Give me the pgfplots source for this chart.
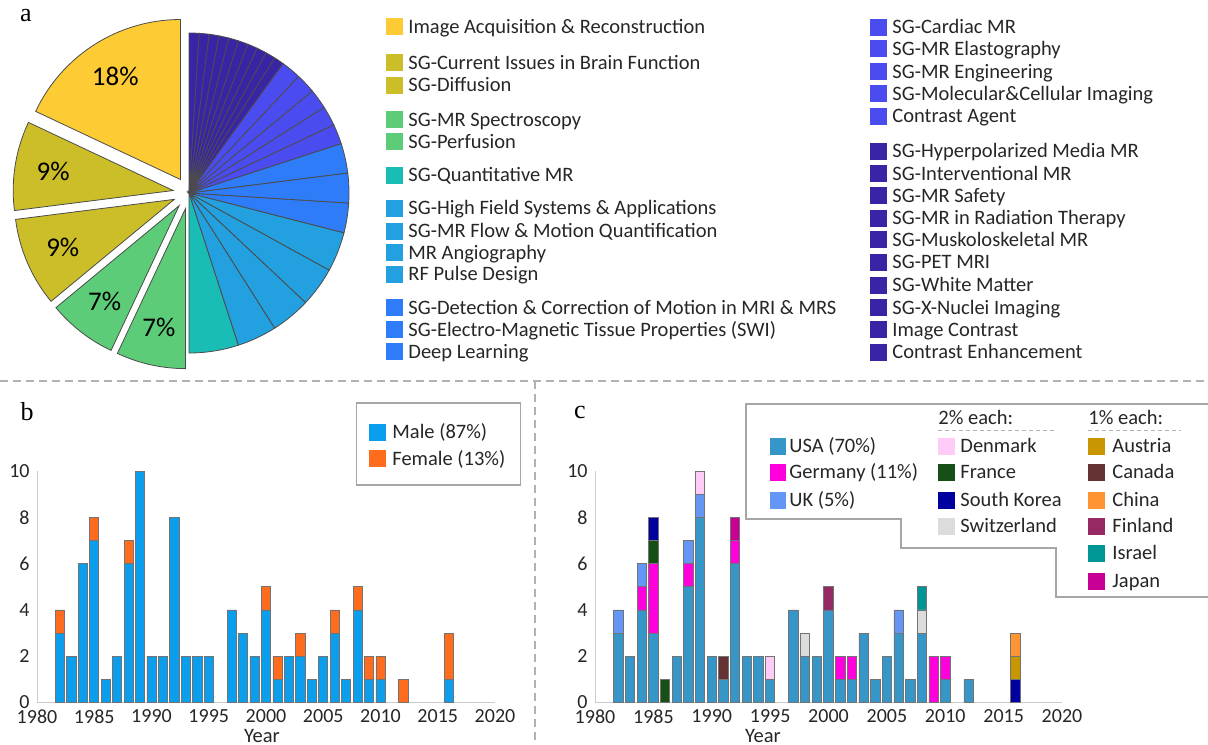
\documentclass[border=0pt]{standalone}
\usepackage{pgfplots}
\pgfplotsset{compat=1.18}
\usepackage{pgfplotstable}
\usepackage{fontspec}
\setmainfont{Carlito}
\newfontfamily\seriffont{Liberation Serif}

\definecolor{cYel}{HTML}{FDCB34}
\definecolor{cOli}{HTML}{CCBE28}
\definecolor{cGrn}{HTML}{5DCC79}
\definecolor{cTeal}{HTML}{1ABDB6}
\definecolor{cLB}{HTML}{22A0DF}
\definecolor{cBB}{HTML}{2E7CF8}
\definecolor{cBP}{HTML}{4A4CEF}
\definecolor{cDP}{HTML}{3A24A6}
\definecolor{cMale}{HTML}{0A9EEC}
\definecolor{cFemale}{HTML}{FF6C1E}
\definecolor{cUSA}{HTML}{3696C8}
\definecolor{cGER}{HTML}{FF00DC}
\definecolor{cUK}{HTML}{6496F5}
\definecolor{cDEN}{HTML}{FFCCF8}
\definecolor{cFRA}{HTML}{175016}
\definecolor{cKOR}{HTML}{0000A0}
\definecolor{cSUI}{HTML}{DCDCDC}
\definecolor{cAUT}{HTML}{C89600}
\definecolor{cCAN}{HTML}{643232}
\definecolor{cCHN}{HTML}{FF9433}
\definecolor{cFIN}{HTML}{962864}
\definecolor{cISR}{HTML}{009696}
\definecolor{cJPN}{HTML}{C80096}
\definecolor{txt}{HTML}{262626}

\pgfplotstableread{
year male female
1982 3 1
1983 2 0
1984 6 0
1985 7 1
1986 1 0
1987 2 0
1988 6 1
1989 10 0
1990 2 0
1991 2 0
1992 8 0
1993 2 0
1994 2 0
1995 2 0
1997 4 0
1998 3 0
1999 2 0
2000 4 1
2001 1 1
2002 2 0
2003 2 1
2004 1 0
2005 2 0
2006 3 1
2007 1 0
2008 4 1
2009 1 1
2010 1 1
2012 0 1
2016 1 2
}\gendertable

\pgfplotstableread{
year USA GER UK DEN FRA KOR SUI AUT CAN CHN FIN ISR JPN
1982 3 0 1 0 0 0 0 0 0 0 0 0 0
1983 2 0 0 0 0 0 0 0 0 0 0 0 0
1984 4 1 1 0 0 0 0 0 0 0 0 0 0
1985 3 3 0 0 1 1 0 0 0 0 0 0 0
1986 0 0 0 0 1 0 0 0 0 0 0 0 0
1987 2 0 0 0 0 0 0 0 0 0 0 0 0
1988 5 1 1 0 0 0 0 0 0 0 0 0 0
1989 8 0 1 1 0 0 0 0 0 0 0 0 0
1990 2 0 0 0 0 0 0 0 0 0 0 0 0
1991 1 0 0 0 0 0 0 0 1 0 0 0 0
1992 6 1 0 0 0 0 0 0 0 0 0 0 1
1993 2 0 0 0 0 0 0 0 0 0 0 0 0
1994 2 0 0 0 0 0 0 0 0 0 0 0 0
1995 1 0 0 1 0 0 0 0 0 0 0 0 0
1996 0 0 0 0 0 0 0 0 0 0 0 0 0
1997 4 0 0 0 0 0 0 0 0 0 0 0 0
1998 2 0 0 0 0 0 1 0 0 0 0 0 0
1999 2 0 0 0 0 0 0 0 0 0 0 0 0
2000 4 0 0 0 0 0 0 0 0 0 1 0 0
2001 1 1 0 0 0 0 0 0 0 0 0 0 0
2002 1 1 0 0 0 0 0 0 0 0 0 0 0
2003 3 0 0 0 0 0 0 0 0 0 0 0 0
2004 1 0 0 0 0 0 0 0 0 0 0 0 0
2005 2 0 0 0 0 0 0 0 0 0 0 0 0
2006 3 0 1 0 0 0 0 0 0 0 0 0 0
2007 1 0 0 0 0 0 0 0 0 0 0 0 0
2008 3 0 0 0 0 0 1 0 0 0 0 1 0
2009 0 2 0 0 0 0 0 0 0 0 0 0 0
2010 1 1 0 0 0 0 0 0 0 0 0 0 0
2011 0 0 0 0 0 0 0 0 0 0 0 0 0
2012 1 0 0 0 0 0 0 0 0 0 0 0 0
2013 0 0 0 0 0 0 0 0 0 0 0 0 0
2014 0 0 0 0 0 0 0 0 0 0 0 0 0
2015 0 0 0 0 0 0 0 0 0 0 0 0 0
2016 0 0 0 0 0 1 0 1 0 1 0 0 0
}\countrytable

% pie slice: start angle, end angle, colour, explode dx, dy
\newcommand{\slice}[5]{%
  \addplot[fill=#3, draw=black!70, line width=0.4pt, domain=#1:#2, samples=30]
    ({#4+cos(x)},{#5+sin(x)}) -- (axis cs:#4,#5) -- cycle;}
% legend item: square x, centre y, colour, text x, text
\newcommand{\li}[5]{%
  \fill[#3] (#1,#2-8.5) rectangle (#1+16.5,#2+8.5);
  \node[anchor=base west, inner sep=0, text=txt] at (#4,#2+6.6) {#5};}

\pgfplotsset{barax/.style={anchor=south west, scale only axis,
  height=115.75pt,
  xmin=1980, xmax=2020, ymin=0, ymax=10,
  ybar stacked, bar width=0.8,
  axis lines=left, axis line style={draw=gray!40, -},
  xtick={1980,1985,...,2020}, ytick={0,2,...,10},
  major tick length=0pt, minor tick num=0,
  tick label style={font=\fontsize{10}{12}\selectfont, text=txt, inner sep=0pt},
  xticklabel style={yshift=-3.5pt},
  yticklabel style={xshift=-3.5pt},
  /pgf/number format/1000 sep={}, /pgf/number format/assume math mode=true,
  clip=false},
  bars/.style={fill=#1, draw=black!55, line width=0.35pt}}

\begin{document}
\begin{tikzpicture}[font=\fontsize{10.25}{12}\selectfont]
\useasboundingbox (0,0) rectangle (604pt,-372pt);
\clip (0,0) rectangle (604pt,-372pt);

% ---------------- pie ----------------
\begin{axis}[at={(94.5pt,-96.5pt)}, anchor=center, scale only axis,
  width=200pt, height=200pt, xmin=-1.25, xmax=1.25, ymin=-1.25, ymax=1.25,
  hide axis, clip=false]
\slice{90}{154.8}{cYel}{-0.0536}{0.0844}
\slice{154.8}{187.2}{cOli}{-0.0988}{0.0156}
\slice{187.2}{219.6}{cOli}{-0.0918}{-0.0397}
\slice{219.6}{244.8}{cGrn}{-0.0613}{-0.0790}
\slice{244.8}{270}{cGrn}{-0.0218}{-0.0976}
\slice{270}{288}{cTeal}{0}{0}
\slice{288}{302.4}{cLB}{0}{0}
\slice{302.4}{316.8}{cLB}{0}{0}
\slice{316.8}{331.2}{cLB}{0}{0}
\slice{331.2}{345.6}{cLB}{0}{0}
\slice{345.6}{356.4}{cBB}{0}{0}
\slice{356.4}{367.2}{cBB}{0}{0}
\slice{367.2}{378}{cBB}{0}{0}
\slice{378}{385.2}{cBP}{0}{0}
\slice{385.2}{392.4}{cBP}{0}{0}
\slice{392.4}{399.6}{cBP}{0}{0}
\slice{399.6}{406.8}{cBP}{0}{0}
\slice{406.8}{414}{cBP}{0}{0}
\slice{414}{417.6}{cDP}{0}{0}
\slice{417.6}{421.2}{cDP}{0}{0}
\slice{421.2}{424.8}{cDP}{0}{0}
\slice{424.8}{428.4}{cDP}{0}{0}
\slice{428.4}{432}{cDP}{0}{0}
\slice{432}{435.6}{cDP}{0}{0}
\slice{435.6}{439.2}{cDP}{0}{0}
\slice{439.2}{442.8}{cDP}{0}{0}
\slice{442.8}{446.4}{cDP}{0}{0}
\slice{446.4}{450}{cDP}{0}{0}
\node[font=\fontsize{13.5}{16}\selectfont] at (axis cs:-0.461,0.726) {18\%};
\node[font=\fontsize{13.5}{16}\selectfont] at (axis cs:-0.849,0.135) {9\%};
\node[font=\fontsize{13.5}{16}\selectfont] at (axis cs:-0.789,-0.342) {9\%};
\node[font=\fontsize{13.5}{16}\selectfont] at (axis cs:-0.527,-0.680) {7\%};
\node[font=\fontsize{13.5}{16}\selectfont] at (axis cs:-0.188,-0.839) {7\%};
\end{axis}

% ---------------- panel b ----------------
\begin{axis}[barax, at={(18.5pt,-351.25pt)}, width=229pt]
\addplot[bars=cMale] table[x=year, y=male] {\gendertable};
\addplot[bars=cFemale] table[x=year, y=female] {\gendertable};
\end{axis}

% ---------------- panel c ----------------
\begin{axis}[barax, at={(297.5pt,-351.25pt)}, width=233.5pt]
\addplot[bars=cUSA] table[x=year, y=USA] {\countrytable};
\addplot[bars=cGER] table[x=year, y=GER] {\countrytable};
\addplot[bars=cUK] table[x=year, y=UK] {\countrytable};
\addplot[bars=cDEN] table[x=year, y=DEN] {\countrytable};
\addplot[bars=cFRA] table[x=year, y=FRA] {\countrytable};
\addplot[bars=cKOR] table[x=year, y=KOR] {\countrytable};
\addplot[bars=cSUI] table[x=year, y=SUI] {\countrytable};
\addplot[bars=cAUT] table[x=year, y=AUT] {\countrytable};
\addplot[bars=cCAN] table[x=year, y=CAN] {\countrytable};
\addplot[bars=cCHN] table[x=year, y=CHN] {\countrytable};
\addplot[bars=cFIN] table[x=year, y=FIN] {\countrytable};
\addplot[bars=cISR] table[x=year, y=ISR] {\countrytable};
\addplot[bars=cJPN] table[x=year, y=JPN] {\countrytable};
\end{axis}

\begin{scope}[x=0.5pt, y=-0.5pt]
% separators
\draw[gray!60, line width=0.7pt, dash pattern=on 4pt off 2.5pt] (0,381) -- (1208,381);
\draw[gray!60, line width=0.7pt, dash pattern=on 4pt off 2.5pt] (535,381) -- (535,744);

% panel letters
\node[font=\seriffont\fontsize{13}{15}\selectfont] at (26,16) {a};
\node[font=\seriffont\fontsize{13}{15}\selectfont] at (27,412) {b};
\node[font=\seriffont\fontsize{13}{15}\selectfont] at (580,412) {c};

% pie legend
\li{386}{26.7}{cYel}{408}{Image Acquisition \& Reconstruction}
\li{386}{62.7}{cOli}{408}{SG-Current Issues in Brain Function}
\li{386}{85.3}{cOli}{408}{SG-Diffusion}
\li{386}{119.5}{cGrn}{408}{SG-MR Spectroscopy}
\li{386}{141.7}{cGrn}{408}{SG-Perfusion}
\li{386}{175}{cTeal}{408}{SG-Quantitative MR}
\li{386}{208.3}{cLB}{408}{SG-High Field Systems \& Applications}
\li{386}{231}{cLB}{408}{SG-MR Flow \& Motion Quantification}
\li{386}{252.7}{cLB}{408}{MR Angiography}
\li{386}{274.3}{cLB}{408}{RF Pulse Design}
\li{386}{307.5}{cBB}{408}{SG-Detection \& Correction of Motion in MRI \& MRS}
\li{386}{329.7}{cBB}{408}{SG-Electro-Magnetic Tissue Properties (SWI)}
\li{386}{351.7}{cBB}{408}{Deep Learning}
\li{870}{27.3}{cBP}{892}{SG-Cardiac MR}
\li{870}{48.7}{cBP}{892}{SG-MR Elastography}
\li{870}{71.7}{cBP}{892}{SG-MR Engineering}
\li{870}{93.7}{cBP}{892}{SG-Molecular\&Cellular Imaging}
\li{870}{116.3}{cBP}{892}{Contrast Agent}
\li{870}{151}{cDP}{892}{SG-Hyperpolarized Media MR}
\li{870}{173.7}{cDP}{892}{SG-Interventional MR}
\li{870}{195.8}{cDP}{892}{SG-MR Safety}
\li{870}{218}{cDP}{892}{SG-MR in Radiation Therapy}
\li{870}{239.7}{cDP}{892}{SG-Muskoloskeletal MR}
\li{870}{262}{cDP}{892}{SG-PET MRI}
\li{870}{285}{cDP}{892}{SG-White Matter}
\li{870}{307.5}{cDP}{892}{SG-X-Nuclei Imaging}
\li{870}{329.7}{cDP}{892}{Image Contrast}
\li{870}{352}{cDP}{892}{Contrast Enhancement}

% panel b texts
\node[anchor=base, inner sep=0, text=txt] at (262,742.5) {Year};
\draw[gray!70, line width=0.6pt, fill=white] (356.5,403) rectangle (520.5,485);
\li{369}{432}{cMale}{392}{Male (87\%)}
\li{369}{458.5}{cFemale}{392}{Female (13\%)}

% panel c texts
\node[anchor=base, inner sep=0, text=txt] at (763,742.5) {Year};
\draw[gray!70, line width=0.6pt, fill=white] (1212,404) -- (746,404) -- (746,519) -- (901,519) -- (901,548) -- (1056,548) -- (1056,597) -- (1212,597);
\node[anchor=base west, inner sep=0, text=txt] at (938,424.6) {2\% each:};
\node[anchor=base west, inner sep=0, text=txt] at (1088,424.6) {1\% each:};
\draw[gray!60, line width=0.5pt, dash pattern=on 2pt off 1.5pt] (938,430) -- (1055,430);
\draw[gray!60, line width=0.5pt, dash pattern=on 2pt off 1.5pt] (1088,430) -- (1181,430);
\li{769.5}{446}{cUSA}{789}{USA (70\%)}
\li{769.5}{472}{cGER}{789}{Germany (11\%)}
\li{769.5}{500}{cUK}{789}{UK (5\%)}
\li{938}{446}{cDEN}{960}{Denmark}
\li{938}{472}{cFRA}{960}{France}
\li{938}{500}{cKOR}{960}{South Korea}
\li{938}{526}{cSUI}{960}{Switzerland}
\li{1088}{446}{cAUT}{1112}{Austria}
\li{1088}{472}{cCAN}{1112}{Canada}
\li{1088}{500}{cCHN}{1112}{China}
\li{1088}{526}{cFIN}{1112}{Finland}
\li{1088}{553}{cISR}{1112}{Israel}
\li{1088}{581}{cJPN}{1112}{Japan}
\end{scope}
\end{tikzpicture}
\end{document}
